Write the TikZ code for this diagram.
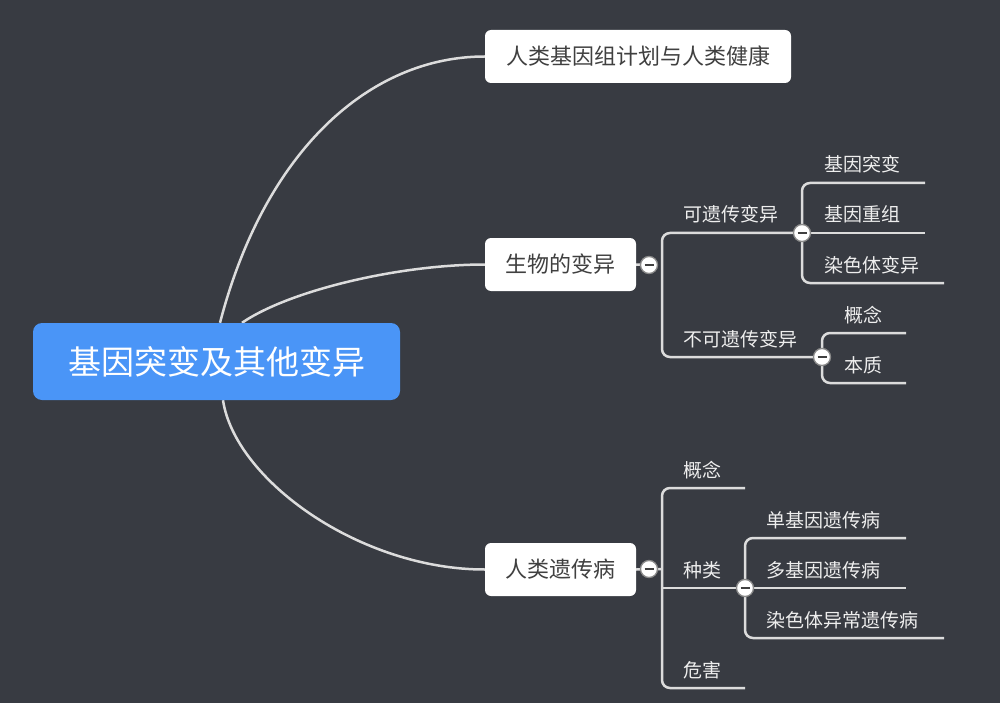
\documentclass[tikz,border=0pt]{standalone}
\usepackage{fontspec}
\setmainfont{Noto Sans CJK SC}
\usetikzlibrary{backgrounds}
\definecolor{bgc}{HTML}{383B42}
\definecolor{bluec}{HTML}{4A95F7}
\definecolor{linec}{HTML}{DCDCDC}
\definecolor{txtc}{HTML}{404040}
\definecolor{labc}{HTML}{EEEEEE}
\definecolor{foldc}{HTML}{8A8A8A}
\begin{document}
\begin{tikzpicture}[x=1pt,y=-1pt,
 root/.style={fill=bluec, rounded corners=9pt, text=white, font=\fontsize{33}{33}\selectfont, minimum width=367pt, minimum height=77pt, inner sep=0pt},
 sub/.style={fill=white, rounded corners=6pt, text=txtc, minimum height=53pt, inner sep=0pt, font=\fontsize{22}{22}\selectfont},
 lab/.style={text=labc, font=\fontsize{19}{19}\selectfont, inner sep=0pt, anchor=base west},
 fold/.style={circle, fill=white, draw=foldc, line width=1.3pt, minimum size=17pt, inner sep=0pt,
   path picture={\draw[line width=2.2pt, txtc] ([xshift=-4.5pt]path picture bounding box.center) -- ([xshift=4.5pt]path picture bounding box.center);}},
 br/.style={draw=linec, line width=2.5pt, rounded corners=8pt},
 curve/.style={draw=linec, line width=2.5pt}
]
\useasboundingbox (0,0) rectangle (1000,703);
% nodes
\node[root] (root) at (216.5,361.5) {基因突变及其他变异};
\node[sub, minimum width=306pt] (hgp) at (638,56.5) {人类基因组计划与人类健康};
\node[sub, minimum width=151pt] (bio) at (560.5,264.5) {生物的变异};
\node[sub, minimum width=151pt] (dis) at (560.5,569.5) {人类遗传病};
% fold markers
\node[fold] (fb) at (649,265) {};
\node[fold] (fh) at (802,233) {};
\node[fold] (fn) at (822,357) {};
\node[fold] (fd) at (649,569) {};
\node[fold] (fk) at (745,588) {};
% junctions and line ends
\coordinate (jb) at (662,265);
\coordinate (jd) at (662,569);
\coordinate (jk) at (662,588);
\coordinate (e1) at (925,183);
\coordinate (e2) at (925,233);
\coordinate (e3) at (944,283);
\coordinate (e4) at (906,333);
\coordinate (e5) at (906,383);
\coordinate (e6) at (745,488);
\coordinate (e8) at (745,688);
\coordinate (e9) at (906,538);
\coordinate (e10) at (906,588);
\coordinate (e11) at (944,638);
% labels
\node[lab] (l1) at (683,222) {可遗传变异};
\node[lab] (l2) at (683,346) {不可遗传变异};
\node[lab] (l3) at (824,172) {基因突变};
\node[lab] (l4) at (824,222) {基因重组};
\node[lab] (l5) at (824,272) {染色体变异};
\node[lab] (l6) at (844,322) {概念};
\node[lab] (l7) at (844,372) {本质};
\node[lab] (l8) at (683,477) {概念};
\node[lab] (l9) at (683,577) {种类};
\node[lab] (l10) at (683,677) {危害};
\node[lab] (l11) at (766,527) {单基因遗传病};
\node[lab] (l12) at (766,577) {多基因遗传病};
\node[lab] (l13) at (766,627) {染色体异常遗传病};
\begin{scope}[on background layer]
\fill[bgc] (0,0) rectangle (1000,703);
% main curves
\draw[curve] ([xshift=3.5pt]root.north) .. controls (265,150) and (370,56.5) .. (hgp.west);
\draw[curve] ([xshift=25.5pt]root.north) .. controls (290,290) and (400,264.5) .. (bio.west);
\draw[curve] ([xshift=6.5pt]root.south) .. controls (235,480) and (360,569.5) .. (dis.west);
% 生物的变异 branches
\draw[br] (bio.east) -- (fb.center);
\draw[br] (fh.center) -| (jb) |- (fn.center);
\draw[br] (e1) -| (fh.center) |- (e3);
\draw[br] (fh.center) -- (e2);
\draw[br] (e4) -| (fn.center) |- (e5);
% 人类遗传病 branches
\draw[br] (dis.east) -- (fd.center) -- (jd);
\draw[br] (e6) -| (jd) |- (e8);
\draw[br] (jk) -- (fk.center);
\draw[br] (e9) -| (fk.center) |- (e11);
\draw[br] (fk.center) -- (e10);
\end{scope}
\end{tikzpicture}
\end{document}
